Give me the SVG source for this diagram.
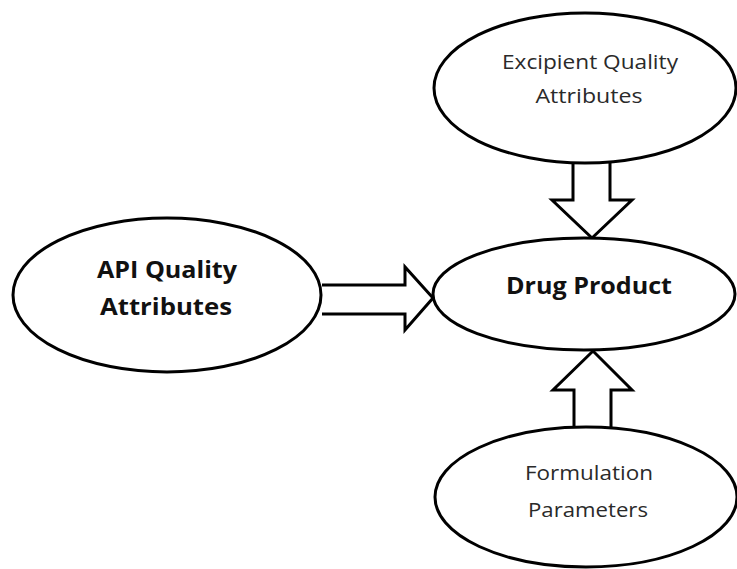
<svg xmlns="http://www.w3.org/2000/svg" width="737" height="569" viewBox="0 0 737 569">
<style>
.node{fill:#fff;stroke:#000;stroke-width:3}
.arr{fill:#fff;stroke:#000;stroke-width:3;stroke-linejoin:miter}
.r{font-family:"Open Sans","DejaVu Sans",sans-serif;font-size:20px;fill:#2a2a2a;text-anchor:middle}
.b{font-family:"Open Sans","DejaVu Sans",sans-serif;font-size:24px;font-weight:bold;fill:#111;text-anchor:middle}
</style>
<rect width="737" height="569" fill="#fff"/>
<g id="connectors">
<path class="arr" d="M573,163 L573,200 L552,200 L592,238 L632,200 L610,200 L610,163"/>
<path class="arr" d="M574,427 L574,390 L553,390 L593,351 L632,390 L611,390 L611,427"/>
<path class="arr" d="M322,285 L405,285 L405,267 L433,298 L405,330 L405,314 L322,314"/>
</g>
<g id="excipient">
<ellipse class="node" cx="585" cy="88" rx="151" ry="75"/>
<text class="r" x="590" y="69" textLength="176" lengthAdjust="spacingAndGlyphs">Excipient Quality</text>
<text class="r" x="589" y="103" textLength="107" lengthAdjust="spacingAndGlyphs">Attributes</text>
</g>
<g id="drug">
<ellipse class="node" cx="584" cy="294" rx="151" ry="56"/>
<text class="b" x="589" y="294" textLength="166" lengthAdjust="spacingAndGlyphs">Drug Product</text>
</g>
<g id="api">
<ellipse class="node" cx="167" cy="295" rx="154" ry="77"/>
<text class="b" x="167" y="278" textLength="140" lengthAdjust="spacingAndGlyphs">API Quality</text>
<text class="b" x="166" y="315" textLength="132" lengthAdjust="spacingAndGlyphs">Attributes</text>
</g>
<g id="formulation">
<ellipse class="node" cx="586" cy="497" rx="151" ry="70"/>
<text class="r" x="589" y="480" textLength="128" lengthAdjust="spacingAndGlyphs">Formulation</text>
<text class="r" x="588" y="517" textLength="120" lengthAdjust="spacingAndGlyphs">Parameters</text>
</g>
</svg>
